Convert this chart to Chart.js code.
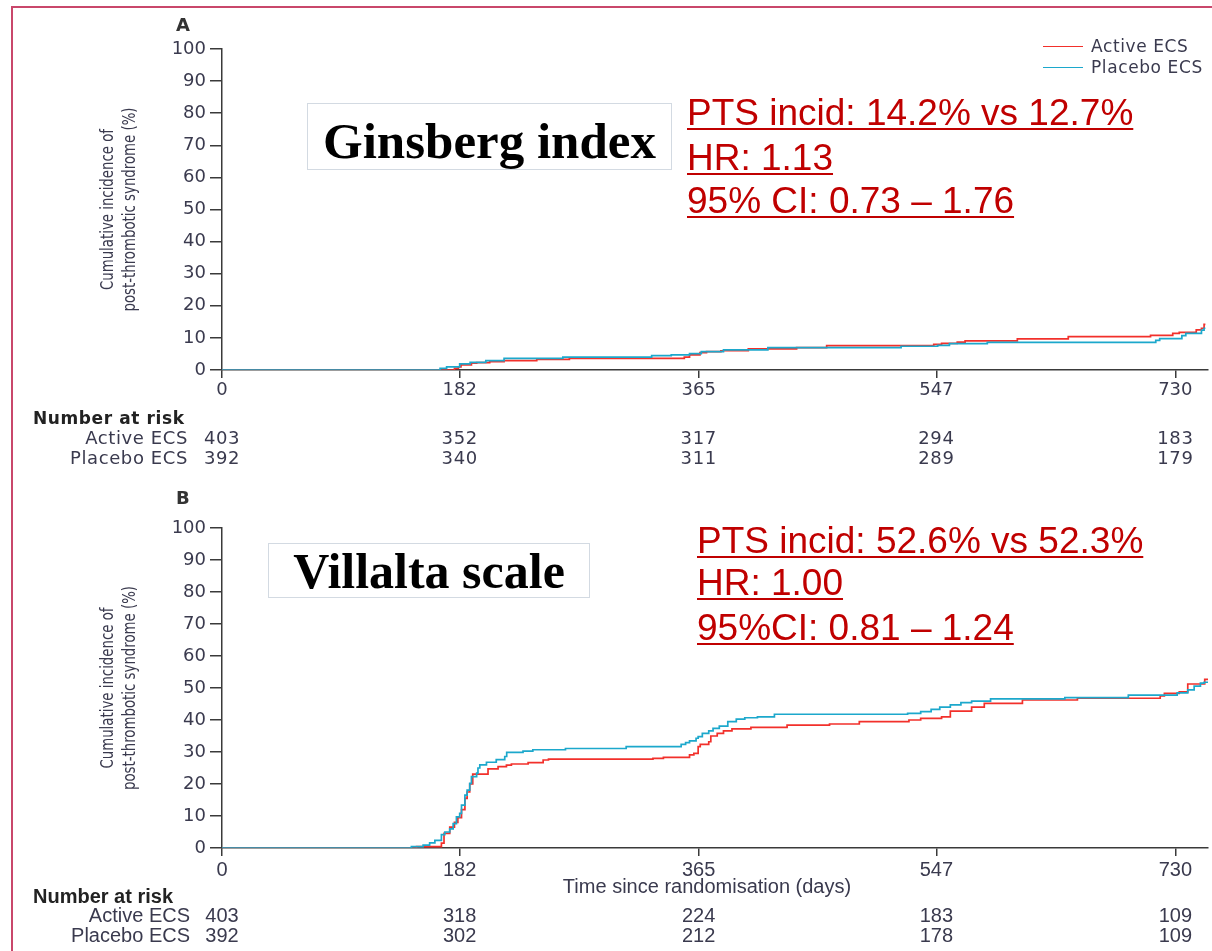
<!DOCTYPE html>
<html><head><meta charset="utf-8">
<script src="https://cdn.jsdelivr.net/npm/chart.js@4.4.0/dist/chart.umd.min.js"></script>
<style>
body{margin:0;width:1212px;height:951px;overflow:hidden;background:#fff;position:relative;font-family:"DejaVu Sans",sans-serif;}
.abs{position:absolute;}
#frame{left:11px;top:6px;width:1300px;height:1000px;border-left:2px solid #c9476b;border-top:2px solid #c9476b;}
.plabel{font-weight:bold;font-size:18px;color:#333;line-height:1;}
.box{border:1.5px solid #d3dae2;background:#fff;font-family:"Liberation Serif","Times New Roman",serif;font-weight:bold;color:#000;display:flex;align-items:center;justify-content:center;box-sizing:border-box;white-space:nowrap;}
.red{font-family:"Liberation Sans",Arial,sans-serif;font-size:37px;color:#c00000;text-decoration:underline;text-decoration-thickness:2px;text-underline-offset:3px;white-space:nowrap;line-height:37px;}
.leg{font-size:17px;color:#3a3a4e;letter-spacing:0.6px;white-space:nowrap;line-height:1;}
.legline{height:0;width:40px;}
</style></head>
<body>
<div id="frame" class="abs"></div>
<div class="abs" style="left:0;top:0;width:1212px;height:475px"><canvas id="cA" width="1212" height="475"></canvas></div>
<div class="abs" style="left:0;top:475px;width:1212px;height:476px"><canvas id="cB" width="1212" height="476"></canvas></div>

<div class="abs plabel" style="left:176px;top:16px">A</div>
<div class="abs plabel" style="left:176px;top:489px">B</div>

<div class="abs legline" style="left:1043px;top:46px;border-top:1.5px solid #f2302b"></div>
<div class="abs leg" style="left:1091px;top:38px">Active ECS</div>
<div class="abs legline" style="left:1043px;top:67px;border-top:1.5px solid #1ca8cc"></div>
<div class="abs leg" style="left:1091px;top:59px">Placebo ECS</div>

<div class="abs box" style="left:307px;top:103px;width:365px;height:67px;font-size:51px;padding-top:9px">Ginsberg index</div>
<div class="abs red" style="left:687px;top:94px">PTS incid: 14.2% vs 12.7%</div>
<div class="abs red" style="left:687px;top:139px">HR: 1.13</div>
<div class="abs red" style="left:687px;top:182px">95% CI: 0.73 – 1.76</div>

<div class="abs box" style="left:268px;top:543px;width:322px;height:55px;font-size:50px">Villalta scale</div>
<div class="abs red" style="left:697px;top:522px">PTS incid: 52.6% vs 52.3%</div>
<div class="abs red" style="left:697px;top:564px">HR: 1.00</div>
<div class="abs red" style="left:697px;top:609px">95%CI: 0.81 – 1.24</div>

<script>
// ---------- data ----------
const xTicks = [0, 182, 365, 547, 730];
const yTitle = ["Cumulative incidence of", "post-thrombotic syndrome (%)"];
const xTitleB = "Time since randomisation (days)";
const seriesNames = ["Active ECS", "Placebo ECS"];

// Panel A: Ginsberg index
const aActiveDays  = [0,178,181,183,191,195,205,216,241,266,354,358,366,371,382,403,440,463,545,551,563,569,609,648,711,728,733,746,750,752];
const aActiveVals  = [0,0.5,1.0,1.6,2.1,2.3,2.6,2.9,3.3,3.6,4.0,4.7,5.4,5.7,6.0,6.6,7.0,7.6,8.0,8.3,8.7,9.1,9.7,10.4,10.8,11.4,11.7,12.5,13.0,14.2];
const aPlaceboDays = [0,167,172,182,190,202,216,261,329,344,358,367,384,418,520,548,557,586,715,718,735,738,750,752];
const aPlaceboVals = [0,0.5,1.0,1.9,2.4,2.9,3.6,4.0,4.5,4.7,5.1,5.7,6.3,7.0,7.4,7.7,8.2,8.6,9.2,9.8,10.7,11.4,12.4,13.0];
const aEndDay = 753;
const aRiskActive  = [403, 352, 317, 294, 183];
const aRiskPlacebo = [392, 340, 311, 289, 179];

// Panel B: Villalta scale
const bActiveDays  = [0,149,168,170,174.4,178,180.6,183.4,186,187.7,189.7,192,203.7,211.4,217.8,221.6,234.4,245.9,250,330,338,358,361.3,364.6,366.2,372.7,374.3,379.2,384,390.5,405,432.7,465.2,488,526,535,551,557.7,574,583.7,612.9,655,718.4,721.6,733,739.5,752.5];
const bActiveVals  = [0,0.4,1.5,4.6,6.5,8.0,9.5,12.0,15.5,17.5,20.0,23.1,24.7,25.4,25.9,26.25,26.7,27.5,27.8,28.0,28.3,29.1,29.6,31.7,32.4,33.2,35.0,35.8,36.6,37.2,37.7,38.4,38.75,39.5,40.0,40.5,41.0,42.8,44.0,45.2,46.25,46.8,47.5,48.3,48.8,51.25,52.7];
const bPlaceboDays = [0,145,154,159,163,168,170.6,174.4,177,179.5,182,183.4,186,187.7,189.7,191,195,196,197.4,202.5,210,216.5,218,230.5,238,263,309.5,351.6,355,358,363,364.6,367.8,372.7,376,380.8,387.3,393.8,400.3,410,423,525,535,543,549.6,557.7,565.8,574,588.5,645.4,694,731.4,739.5,744.4,749.2,752];
const bPlaceboVals = [0,0.4,0.9,1.6,2.4,4.2,5.0,6.0,7.6,9.7,10.8,13.4,16.5,18.1,20.2,22.3,23.4,25.0,26.0,26.8,27.6,28.6,29.9,30.3,30.7,31.1,31.7,32.4,32.9,33.5,34.3,34.8,35.8,36.6,37.4,38.1,39.5,40.3,40.7,41.0,41.8,42.1,42.6,43.3,44.0,44.7,45.4,45.9,46.6,47.0,47.8,48.5,49.4,50.6,51.5,51.8];
const bEndDay = 755;
const bRiskActive  = [403, 318, 224, 183, 109];
const bRiskPlacebo = [392, 302, 212, 178, 109];

// ---------- style ----------
const RED = "#f2302b", CYAN = "#1ca8cc", TEXT = "#3a3a4e", AXIS = "#3a3a3a";
const FONT_A = '"DejaVu Sans", sans-serif';
const FONT_B = '"Liberation Sans", Arial, sans-serif';

function series(days, vals, end) {
  const pts = days.map((d, i) => ({x: d, y: vals[i]}));
  pts.push({x: end, y: vals[vals.length - 1]});
  return pts;
}

function extrasPlugin(o) {
  return {
    id: 'extras',
    afterDraw(chart) {
      const ctx = chart.ctx, xs = chart.scales.x, ca = chart.chartArea;
      ctx.save();
      ctx.fillStyle = TEXT;
      // y-axis title (two rotated, condensed lines)
      ctx.font = '18px ' + FONT_A;
      ctx.textAlign = 'center'; ctx.textBaseline = 'alphabetic';
      const cy = (ca.top + ca.bottom) / 2;
      yTitle.forEach((t, i) => {
        ctx.save();
        ctx.translate(o.yTitleX[i], cy);
        ctx.rotate(-Math.PI / 2);
        ctx.scale(0.74, 1);
        ctx.fillText(t, 0, 0);
        ctx.restore();
      });
      // x title
      if (o.xTitle) {
        ctx.font = o.rowFont;
        ctx.textBaseline = 'middle';
        ctx.fillText(o.xTitle, o.xTitleX, o.xTitleY);
      }
      // number at risk table
      ctx.textBaseline = 'middle';
      ctx.textAlign = 'left';
      ctx.font = o.boldFont;
      if ('letterSpacing' in ctx) ctx.letterSpacing = o.spacing;
      ctx.fillStyle = '#222';
      ctx.fillText('Number at risk', 33, o.rowY[0]);
      ctx.fillStyle = TEXT;
      ctx.font = o.rowFont;
      ctx.textAlign = 'right';
      ctx.fillText(seriesNames[0], o.labelRight, o.rowY[1]);
      ctx.fillText(seriesNames[1], o.labelRight, o.rowY[2]);
      ctx.textAlign = 'center';
      xTicks.forEach((t, i) => {
        const px = xs.getPixelForValue(t);
        ctx.fillText(String(o.risk[0][i]), px, o.rowY[1]);
        ctx.fillText(String(o.risk[1][i]), px, o.rowY[2]);
      });
      ctx.restore();
    }
  };
}

function makeChart(id, H, padTop, axisBottom, xFont, datasets, o) {
  return new Chart(document.getElementById(id), {
    type: 'line',
    data: {datasets},
    options: {
      responsive: false, animation: false, devicePixelRatio: 1,
      layout: {padding: {top: padTop, right: 4, left: 0, bottom: 0}},
      plugins: {legend: {display: false}, tooltip: {enabled: false}},
      elements: {point: {radius: 0}, line: {borderWidth: 1.7, stepped: true, tension: 0, fill: false}},
      scales: {
        x: {
          type: 'linear', min: 0, max: 755,
          afterBuildTicks: s => { s.ticks = xTicks.map(v => ({value: v})); },
          afterFit: s => { s.height = H - axisBottom; },
          grid: {display: true, drawOnChartArea: false, drawTicks: true, tickLength: 8, color: AXIS, lineWidth: 1.5},
          border: {display: true, color: AXIS, width: 1.5},
          ticks: {font: xFont, color: TEXT, padding: 2, maxRotation: 0, autoSkip: false,
                  callback: v => String(v)}
        },
        y: {
          min: 0, max: 100,
          afterFit: s => { s.width = 222; },
          grid: {display: true, drawOnChartArea: false, drawTicks: true, tickLength: 12, color: AXIS, lineWidth: 1.5},
          border: {display: true, color: AXIS, width: 1.5},
          ticks: {stepSize: 10, font: {family: FONT_A, size: 18}, color: TEXT, padding: 4}
        }
      }
    },
    plugins: [extrasPlugin(o)]
  });
}

makeChart('cA', 475, 49, 370, {family: FONT_A, size: 18}, [
  {label: seriesNames[0], data: series(aActiveDays, aActiveVals, aEndDay), borderColor: RED, order: 1},
  {label: seriesNames[1], data: series(aPlaceboDays, aPlaceboVals, aEndDay), borderColor: CYAN, order: 0}
], {
  yTitleX: [113, 135], rowY: [420, 439, 459], labelRight: 188,
  boldFont: 'bold 17px ' + FONT_A, rowFont: '18px ' + FONT_A, spacing: '0.6px',
  risk: [aRiskActive, aRiskPlacebo]
});

makeChart('cB', 476, 53, 373, {family: FONT_B, size: 20}, [
  {label: seriesNames[0], data: series(bActiveDays, bActiveVals, bEndDay), borderColor: RED, order: 1},
  {label: seriesNames[1], data: series(bPlaceboDays, bPlaceboVals, bEndDay), borderColor: CYAN, order: 0}
], {
  yTitleX: [113, 135], rowY: [422, 441, 461], labelRight: 190,
  boldFont: 'bold 20px ' + FONT_B, rowFont: '20px ' + FONT_B, spacing: '0px',
  xTitle: xTitleB, xTitleX: 707, xTitleY: 412,
  risk: [bRiskActive, bRiskPlacebo]
});
</script>
</body></html>
